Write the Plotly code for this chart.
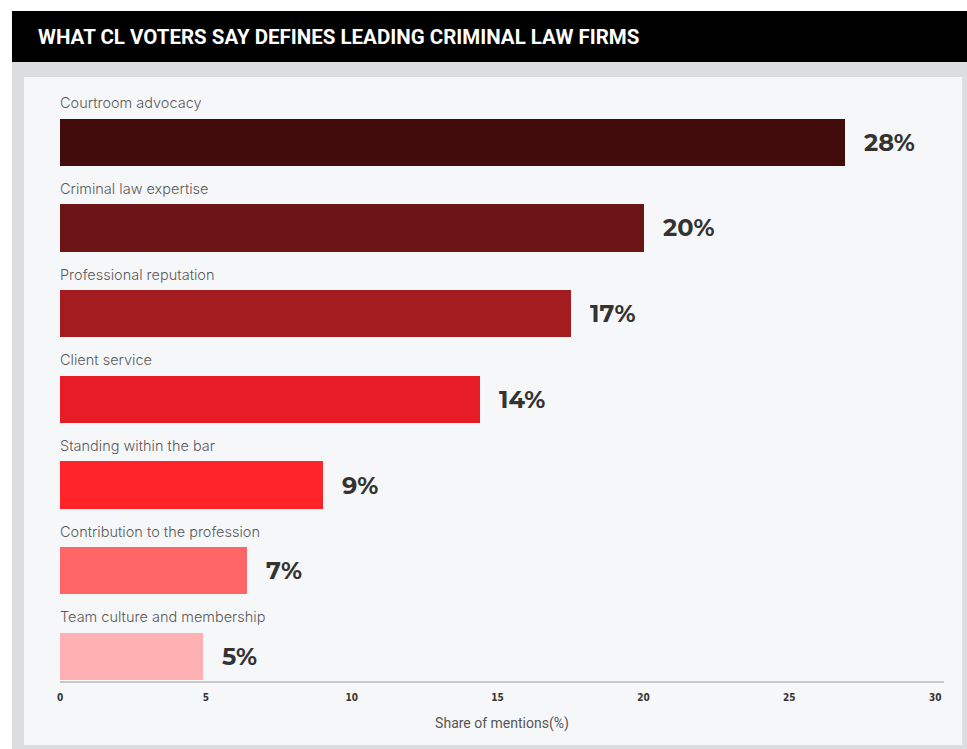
import plotly.graph_objects as go

categories = [
    "Courtroom advocacy",
    "Criminal law expertise",
    "Professional reputation",
    "Client service",
    "Standing within the bar",
    "Contribution to the profession",
    "Team culture and membership",
]
bar_values = [26.9, 20.0, 17.5, 14.4, 9.0, 6.4, 4.9]
value_labels = ["28%", "20%", "17%", "14%", "9%", "7%", "5%"]
bar_colors = ["#420c0c", "#6d1416", "#a31c1f", "#e71c26", "#fe2429", "#fe6566", "#ffb0b3"]
tick_values = [0, 5, 10, 15, 20, 25, 30]
title_text = "WHAT CL VOTERS SAY DEFINES LEADING CRIMINAL LAW FIRMS"
x_title = "Share of mentions(%)"

W, H = 967, 749
PL, PR, PT, PB = 60, 943.75, 90, 681  # plot area in pixels
n = len(categories)
ypos = [n - 1 - i for i in range(n)]
bar_w = 0.55
slot_px = 85.7
y_low = -bar_w / 2 - 1 / slot_px
y_high = y_low + (PB - PT) / slot_px


def px_x(x):
    return (x - PL) / (PR - PL)


def px_y(y):
    return (PB - y) / (PB - PT)


fig = go.Figure()
fig.add_trace(go.Bar(
    x=bar_values, y=ypos, orientation="h", width=bar_w,
    marker=dict(color=bar_colors, line=dict(width=0)),
    hoverinfo="skip", showlegend=False,
))

annotations = []
for cat, val, lab, yp in zip(categories, bar_values, value_labels, ypos):
    annotations.append(dict(
        x=0, y=yp + bar_w / 2 + 16 / slot_px, xref="x", yref="y",
        text=cat, showarrow=False, xanchor="left", yanchor="middle", xshift=-2,
        font=dict(family="Inter, Roboto, sans-serif", size=14.5, color="#5a5a5a", weight=300),
    ))
    annotations.append(dict(
        x=val, y=yp, xref="x", yref="y", text=lab, showarrow=False,
        xanchor="left", yanchor="middle", xshift=17,
        font=dict(family="Montserrat, Lato, sans-serif", size=24, color="#333333", weight="bold"),
    ))

annotations.append(dict(
    x=px_x(36), y=px_y(37), xref="paper", yref="paper", text=title_text,
    showarrow=False, xanchor="left", yanchor="middle",
    font=dict(family="Roboto, sans-serif", size=20.5, color="white", weight="bold"),
))

shapes = [
    dict(type="rect", xref="paper", yref="paper", x0=px_x(12), x1=px_x(967),
         y0=px_y(62), y1=px_y(749), fillcolor="#dcdddf", line=dict(width=0), layer="below"),
    dict(type="rect", xref="paper", yref="paper", x0=px_x(24), x1=px_x(962),
         y0=px_y(77), y1=px_y(745), fillcolor="#f6f7f9", line=dict(width=0), layer="below"),
    dict(type="rect", xref="paper", yref="paper", x0=px_x(12), x1=px_x(967),
         y0=px_y(11), y1=px_y(62), fillcolor="#000000", line=dict(width=0), layer="below"),
]

fig.update_layout(
    width=W, height=H,
    margin=dict(l=PL, r=W - PR, t=PT, b=H - PB, pad=0),
    paper_bgcolor="white", plot_bgcolor="rgba(0,0,0,0)",
    annotations=annotations, shapes=shapes,
    bargap=0,
    xaxis=dict(
        range=[0, 30.3], tickvals=tick_values, showgrid=False, zeroline=False,
        showline=True, linecolor="#c8c8c8", linewidth=2, ticks="",
        tickfont=dict(family="DejaVu Sans Condensed, Liberation Sans Narrow, sans-serif",
                      size=10, color="#333333", weight="bold"),
        ticklabelstandoff=6,
        title=dict(text=x_title, standoff=16,
                   font=dict(family="Roboto, sans-serif", size=14, color="#555555")),
        fixedrange=True,
    ),
    yaxis=dict(range=[y_low, y_high], visible=False, fixedrange=True),
)

fig.write_html("out.html", config={"displayModeBar": False})
